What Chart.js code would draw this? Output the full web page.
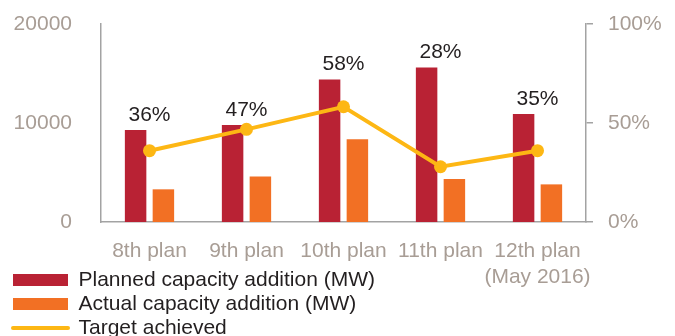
<!DOCTYPE html>
<html>
<head>
<meta charset="utf-8">
<script src="https://cdn.jsdelivr.net/npm/chart.js@4/dist/chart.umd.min.js"></script>
<style>
  html, body { margin: 0; padding: 0; background: #ffffff; }
  #wrap { width: 675px; height: 336px; }
</style>
</head>
<body>
<div id="wrap"><canvas id="c" width="675" height="336"></canvas></div>
<script>
// ---- data ----
const categories = [['8th plan'], ['9th plan'], ['10th plan'], ['11th plan'], ['12th plan', '(May 2016)']];
const plannedMW = [9300, 9800, 14400, 15600, 10900];
const actualMW = [3300, 4600, 8350, 4350, 3800];
const targetAchievedPct = [36, 46.8, 58.2, 27.9, 36];
const pctLabels = ['36%', '47%', '58%', '28%', '35%'];
const leftTicks = [0, 10000, 20000];
const rightTicks = [0, 50, 100];

// ---- styles ----
const RED = '#b92234';
const ORANGE = '#f27024';
const YELLOW = '#fdb714';
const TICK_GREY = '#a89d95';
const AXIS_GREY = '#a3a3a3';
const TEXT_DARK = '#231f20';
const FONT = '"Liberation Sans", Arial, Helvetica, sans-serif';

Chart.defaults.font.family = FONT;
Chart.defaults.font.size = 21;

const pctLabelPlugin = {
  id: 'pctLabels',
  afterDatasetsDraw(chart) {
    const ctx = chart.ctx;
    const meta = chart.getDatasetMeta(0);
    const xs = chart.scales.x;
    ctx.save();
    ctx.font = '21px ' + FONT;
    ctx.fillStyle = TEXT_DARK;
    ctx.textAlign = 'center';
    ctx.textBaseline = 'middle';
    meta.data.forEach((bar, i) => {
      ctx.fillText(pctLabels[i], xs.getPixelForValue(i), bar.y - 15);
    });
    ctx.restore();
  }
};

const legendPlacePlugin = {
  id: 'legendPlace',
  afterLayout(chart) {
    const lg = chart.legend;
    if (!lg) return;
    lg.top = 266.5;
    lg.bottom = lg.top + 100;
    lg.height = 100;
    lg.right = lg.left + 400;
    lg.width = 400;
  }
};

new Chart(document.getElementById('c'), {
  data: {
    labels: categories,
    datasets: [
      { type: 'bar', label: 'Planned capacity addition (MW)', data: plannedMW, backgroundColor: RED, borderWidth: 0, yAxisID: 'y', order: 2, categoryPercentage: 0.573, barPercentage: 0.773 },
      { type: 'bar', label: 'Actual capacity addition (MW)', data: actualMW, backgroundColor: ORANGE, borderWidth: 0, yAxisID: 'y', order: 2, categoryPercentage: 0.573, barPercentage: 0.773 },
      { type: 'line', label: 'Target achieved', data: targetAchievedPct, borderColor: YELLOW, backgroundColor: YELLOW, borderWidth: 4, pointRadius: 6.5, pointHoverRadius: 6.5, pointBackgroundColor: YELLOW, pointBorderWidth: 0, tension: 0, fill: false, yAxisID: 'y1', order: 0 }
    ]
  },
  options: {
    responsive: false,
    animation: false,
    devicePixelRatio: 1,
    layout: { padding: { left: 10, right: 0, top: 24, bottom: 0 } },
    plugins: {
      tooltip: { enabled: false },
      legend: {
        position: 'bottom',
        align: 'start',
        maxHeight: 1,
        labels: {
          color: TEXT_DARK,
          font: { size: 21, family: FONT },
          usePointStyle: true,
          pointStyleWidth: 55,
          boxHeight: 12,
          padding: 3,
          generateLabels(chart) {
            const items = Chart.defaults.plugins.legend.labels.generateLabels(chart);
            items.sort((a, b) => a.datasetIndex - b.datasetIndex);
            items.forEach(it => {
              if (it.datasetIndex === 2) {
                it.pointStyle = 'line'; it.lineWidth = 4; it.strokeStyle = YELLOW; it.lineCap = 'round';
              } else {
                it.pointStyle = 'rect'; it.lineWidth = 0;
              }
            });
            return items;
          }
        }
      }
    },
    scales: {
      x: {
        type: 'category',
        offset: true,
        grid: { display: false, drawTicks: false },
        border: { display: true, color: AXIS_GREY, width: 1.5 },
        ticks: { color: TICK_GREY, font: { size: 21, family: FONT, lineHeight: 1.25 }, padding: 16, maxRotation: 0, minRotation: 0, autoSkip: false },
        afterFit(scale) {
          const lgH = scale.chart.legend ? scale.chart.legend.height : 0;
          scale.height = 336 - 222 - lgH;
        }
      },
      y: {
        type: 'linear', position: 'left', min: 0, max: 20000,
        grid: { display: false, drawTicks: false },
        border: { display: true, color: AXIS_GREY, width: 1.5 },
        afterBuildTicks(scale) { scale.ticks = leftTicks.map(v => ({ value: v })); },
        ticks: { color: TICK_GREY, font: { size: 21, family: FONT }, padding: 29, callback: v => String(v) },
        afterFit(scale) { scale.width = 91; scale.paddingTop = 0; scale.paddingBottom = 0; }
      },
      y1: {
        type: 'linear', position: 'right', min: 0, max: 100,
        grid: { display: true, drawOnChartArea: false, drawTicks: true, tickLength: 7, color: AXIS_GREY, lineWidth: 1.5 },
        border: { display: true, color: AXIS_GREY, width: 1.5 },
        afterBuildTicks(scale) { scale.ticks = rightTicks.map(v => ({ value: v })); },
        ticks: { color: TICK_GREY, font: { size: 21, family: FONT }, padding: 15, callback: v => v + '%' },
        afterFit(scale) { scale.width = 89; scale.paddingTop = 0; scale.paddingBottom = 0; }
      }
    }
  },
  plugins: [pctLabelPlugin, legendPlacePlugin]
});
</script>
</body>
</html>
